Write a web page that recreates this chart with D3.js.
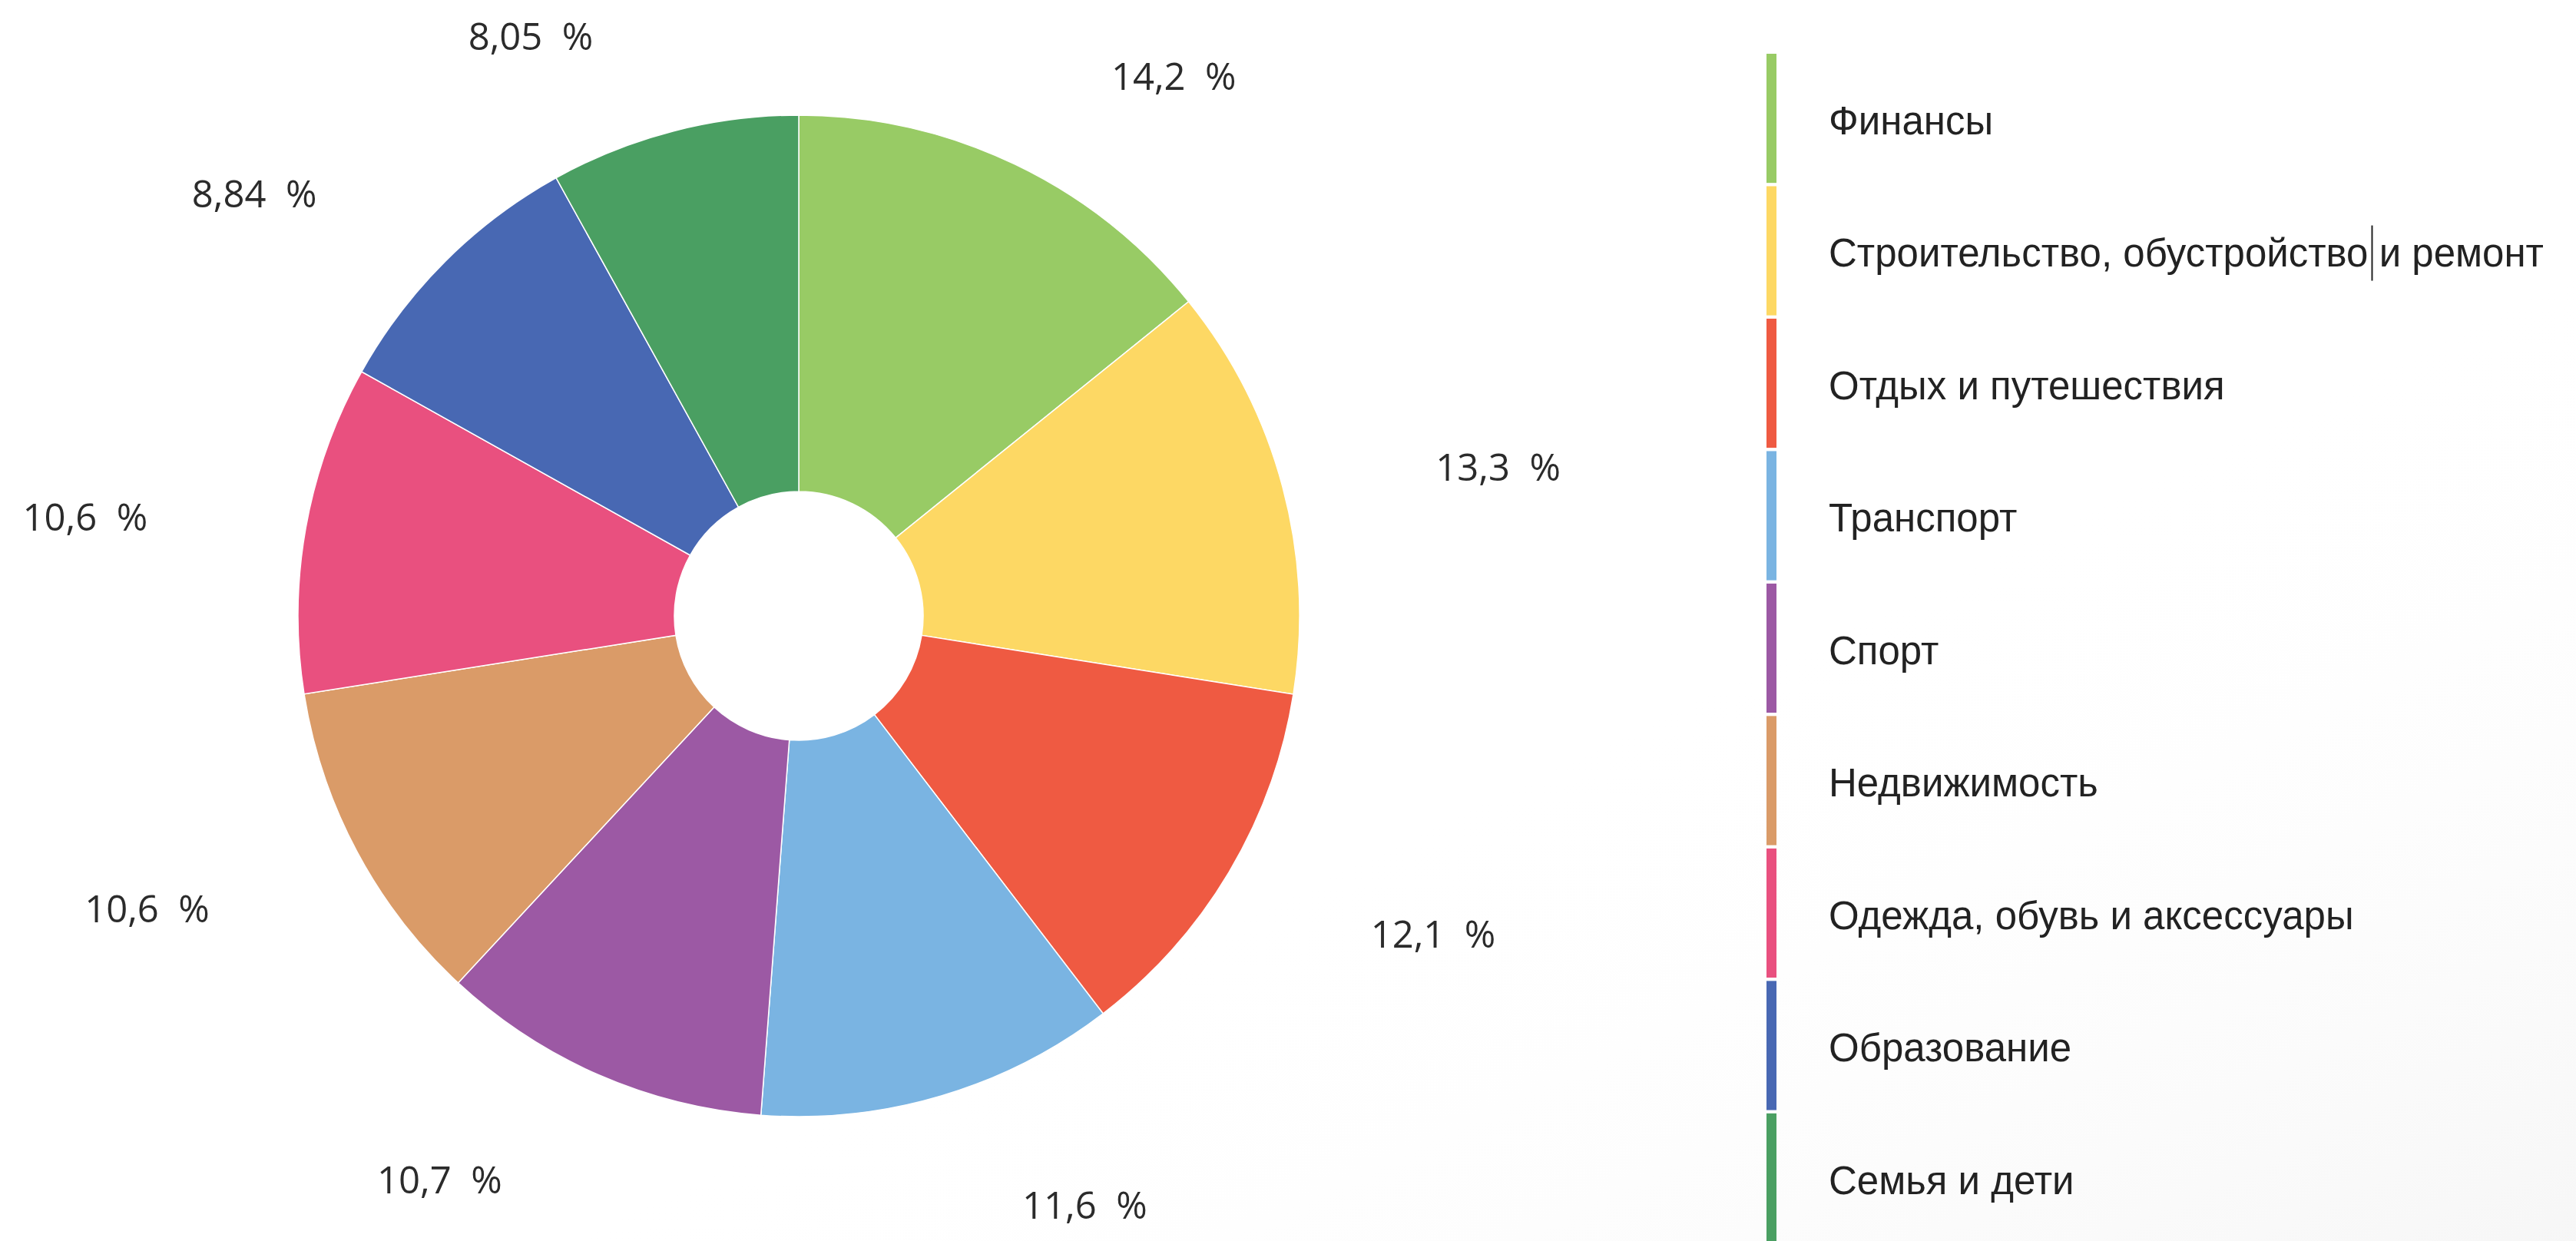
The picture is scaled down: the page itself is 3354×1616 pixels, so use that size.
<!DOCTYPE html>
<html>
<head>
<meta charset="utf-8">
<script src="https://cdn.jsdelivr.net/npm/d3@7"></script>
<style>
  body { margin: 0; background: #fff; }
  svg { display: block; }
  .lbl { font-family: "Open Sans", sans-serif; font-size: 49px; fill: #2b2b2b; white-space: pre; }
  .leg { font-family: "Liberation Sans", Arial, sans-serif; font-size: 51px; fill: #222; }
</style>
</head>
<body>
<svg id="chart" width="3354" height="1616"></svg>
<script>
// categories in the order they go round the pie (clockwise from 12 o'clock)
const categories = ['Финансы', 'Строительство, обустройство и ремонт', 'Отдых и путешествия',
  'Транспорт', 'Спорт', 'Недвижимость', 'Одежда, обувь и аксессуары', 'Образование', 'Семья и дети'];
const shares = [14.2, 13.3, 12.1, 11.6, 10.7, 10.6, 10.6, 8.84, 8.05];
const shareLabels = ['14,2  %', '13,3  %', '12,1  %', '11,6  %', '10,7  %', '10,6  %', '10,6  %', '8,84  %', '8,05  %'];
const colors = ['#98cb65', '#fdd864', '#ef5a42', '#7ab4e2', '#9c59a4', '#da9b68', '#e9507f', '#4868b3', '#4a9f62'];

const svg = d3.select('#chart');
const width = +svg.attr('width'), height = +svg.attr('height');

// faint grey wash in the bottom right corner
const defs = svg.append('defs');
const grad = defs.append('linearGradient').attr('id', 'wash')
  .attr('x1', '0').attr('y1', '0').attr('x2', '1').attr('y2', '1');
grad.append('stop').attr('offset', '0.6').attr('stop-color', '#fff').attr('stop-opacity', 0);
grad.append('stop').attr('offset', '1').attr('stop-color', '#ececec').attr('stop-opacity', 0.45);
svg.append('rect').attr('width', width).attr('height', height).attr('fill', 'url(#wash)');

const color = d3.scaleOrdinal().domain(categories).range(colors);

const cx = 1040, cy = 802;
const g = svg.append('g').attr('transform', `translate(${cx},${cy})`);

const data = categories.map((c, i) => ({ name: c, value: shares[i], label: shareLabels[i] }));
const pie = d3.pie().sort(null).value(d => d.value);
const arc = d3.arc().innerRadius(162).outerRadius(652);
const labelArc = d3.arc().innerRadius(790).outerRadius(790);

const slices = pie(data);

g.selectAll('path.slice')
  .data(slices)
  .enter()
  .append('path')
  .attr('class', 'slice')
  .attr('d', arc)
  .attr('fill', d => color(d.data.name))
  .attr('stroke', '#fff')
  .attr('stroke-width', 1.5);

// percentage labels: near edge of the text sits a little past the label circle
g.selectAll('text.lbl')
  .data(slices)
  .enter()
  .append('text')
  .attr('class', 'lbl')
  .attr('x', d => {
    const [x] = labelArc.centroid(d);
    return x >= 0 ? x + 66 : x - 70;
  })
  .attr('y', d => labelArc.centroid(d)[1] + 10)
  .attr('dy', '0.36em')
  .attr('text-anchor', d => labelArc.centroid(d)[0] >= 0 ? 'start' : 'end')
  .text(d => d.data.label);

// legend: stacked colour bar with names beside it
const legendY = d3.scaleBand().domain(categories).range([70, 70 + 172 * categories.length]).paddingInner(0.025);
const legend = svg.append('g');

legend.selectAll('rect')
  .data(categories)
  .enter()
  .append('rect')
  .attr('x', 2300)
  .attr('y', d => legendY(d))
  .attr('width', 13)
  .attr('height', legendY.bandwidth())
  .attr('fill', d => color(d));

const legText = legend.selectAll('text')
  .data(categories)
  .enter()
  .append('text')
  .attr('class', 'leg')
  .attr('x', 2381)
  .attr('y', d => legendY(d) + legendY.bandwidth() / 2 + 3)
  .attr('dy', '0.35em')
  .text(d => d);

// the text caret seen in the second legend entry
legText.filter((d, i) => i === 1).each(function(d) {
  const node = this;
  const pos = d.indexOf(' и ремонт');
  const w = node.getSubStringLength(0, pos);
  const y = legendY(d) + legendY.bandwidth() / 2 + 3;
  legend.append('line')
    .attr('x1', 2381 + w + 5).attr('x2', 2381 + w + 5)
    .attr('y1', y - 36).attr('y2', y + 36)
    .attr('stroke', '#222').attr('stroke-width', 2);
});
</script>
</body>
</html>
